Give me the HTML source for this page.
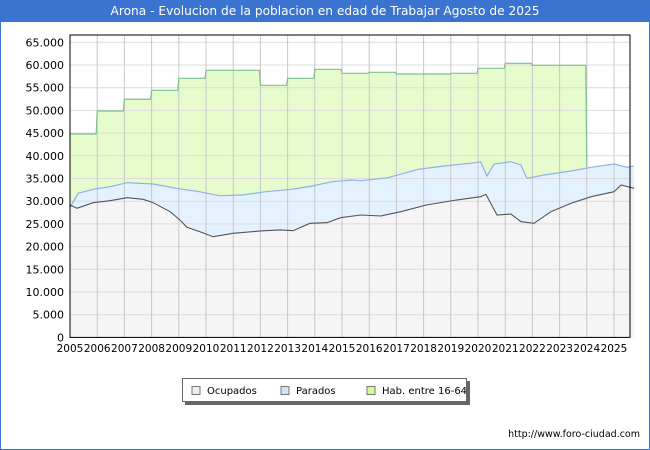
<!DOCTYPE html>
<html><head><meta charset="utf-8"><style>
body{margin:0;width:650px;height:450px;overflow:hidden;background:#fff;font-family:"DejaVu Sans","Liberation Sans",sans-serif}
#frame{position:absolute;left:0;top:0;width:648px;height:448px;border:1px solid #3a74d0}
#title{position:absolute;left:0;top:0;width:650px;height:22px;background:#3a74d0;color:#fff;font-size:12.2px;line-height:22px;text-align:center}
svg{position:absolute;left:0;top:0}
</style></head><body>
<div id="frame"></div>
<div id="title">Arona - Evolucion de la poblacion en edad de Trabajar Agosto de 2025</div>
<svg id="chart" width="650" height="450"></svg>
<script>
const habYears=[2005,2006,2007,2008,2009,2010,2011,2012,2013,2014,2015,2016,2017,2018,2019,2020,2021,2022,2023];
const habValues=[44800,49870,52450,54420,57070,58830,58830,55530,57070,59050,58170,58390,58020,58020,58170,59270,60370,59930,59930];
const habEnd=2024.0;
const ocuDates=[2005,2005.26,2005.85,2006.47,2007.1,2007.69,2008.06,2008.68,2009.04,2009.3,2009.78,2010.26,2011.0,2012.0,2012.72,2013.2,2013.82,2014.45,2014.95,2015.69,2016.43,2017.16,2018.1,2019.21,2020.1,2020.29,2020.7,2021.21,2021.58,2022.06,2022.68,2023.42,2024.16,2025.0,2025.26,2025.74];
const ocuValues=[29160,28440,29670,30110,30770,30420,29670,27690,25860,24250,23280,22180,22930,23440,23660,23500,25130,25260,26370,26960,26740,27690,29160,30260,30990,31520,26960,27180,25480,25130,27690,29540,30990,32090,33570,32840];
const parDates=[2005,2005.3,2005.85,2006.47,2007.1,2008.06,2008.9,2009.75,2010.48,2011.32,2012.2,2013.16,2013.9,2014.63,2015.35,2015.69,2016.69,2017.8,2018.76,2019.9,2020.1,2020.33,2020.59,2021.21,2021.58,2021.8,2022.43,2023.42,2024.16,2025.0,2025.48,2025.74];
const parValues=[28600,31740,32620,33200,34080,33790,32840,32090,31210,31360,32090,32620,33350,34300,34670,34520,35180,37030,37760,38480,38700,35550,38190,38700,37980,35040,35770,36650,37470,38190,37470,37760];
const yTicks=[0,5000,10000,15000,20000,25000,30000,35000,40000,45000,50000,55000,60000,65000];
const xTicks=[2005,2006,2007,2008,2009,2010,2011,2012,2013,2014,2015,2016,2017,2018,2019,2020,2021,2022,2023,2024,2025];

const NS='http://www.w3.org/2000/svg';
const svg=document.getElementById('chart');
const L=70,R=630,T=35,B=337.4;
const x=t=>L+(t-2005)*27.2;
const y=v=>B-v/5000*22.7;
function mk(tag,attrs,parent){const e=document.createElementNS(NS,tag);for(const k in attrs)e.setAttribute(k,attrs[k]);(parent||svg).appendChild(e);return e;}
const fmt=v=>v.toLocaleString('de-DE');

mk('rect',{x:L,y:T,width:R-L,height:B-T,fill:'#fff'});
let hp=[];habYears.forEach((yr,i)=>{const x2=i+1<habYears.length?habYears[i+1]:habEnd;hp.push([x(yr),y(habValues[i])],[x(x2)-1,y(habValues[i])]);});
const hpts=hp.map(p=>p.join(',')).join(' ');
const habArea=mk('polygon',{points:`${x(2005)},${B} ${hpts} ${x(habEnd)},${B}`,fill:'#e6fccc'});


const ppts=parDates.map((d,i)=>`${x(d)},${y(parValues[i])}`).join(' ');
const parArea=mk('polygon',{points:`${x(parDates[0])},${B} ${ppts} ${x(parDates[parDates.length-1])},${B}`,fill:'#e4f1fe'});


const opts=ocuDates.map((d,i)=>`${x(d)},${y(ocuValues[i])}`).join(' ');
const ocuArea=mk('polygon',{points:`${x(ocuDates[0])},${B} ${opts} ${x(ocuDates[ocuDates.length-1])},${B}`,fill:'#f5f5f5'});


yTicks.forEach(v=>{mk('line',{x1:L,x2:R,y1:y(v),y2:y(v),stroke:'#dcdcdc','stroke-width':1});
const t=mk('text',{x:64,y:y(v)+4,'text-anchor':'end','font-size':11,fill:'#000'});t.textContent=fmt(v);

});
xTicks.forEach(v=>{mk('line',{x1:x(v),x2:x(v),y1:T,y2:B,stroke:'#c8c8c8','stroke-width':1});
const t=mk('text',{x:x(v),y:352,'text-anchor':'middle','font-size':10.5,fill:'#000'});t.textContent=v;

});
const hl=mk('polyline',{points:`${x(2005)},${y(habValues[0])} ${hpts} ${x(habEnd)},${y(parValues[28])}`,fill:'none',stroke:'#7cc090','stroke-width':1.2});


const pl=mk('polyline',{points:ppts,fill:'none',stroke:'#8fb0ea','stroke-width':1.2});


const ol=mk('polyline',{points:opts,fill:'none',stroke:'#555','stroke-width':1.1});


mk('rect',{x:L,y:T,width:R-L,height:B-T,fill:'none',stroke:'#000','stroke-width':1});
const lg=mk('g',{});


mk('rect',{x:185,y:381,width:285,height:24,fill:'#666'},lg);
mk('rect',{x:182.5,y:378.5,width:284,height:23,fill:'#fff',stroke:'#666'},lg);
[['Ocupados','#eeeeee',192],['Parados','#cce6ff',281],['Hab. entre 16-64','#ccff99',367]].forEach(([n,c,lx])=>{
const g=mk('g',{},lg);


mk('rect',{x:lx,y:386.5,width:8,height:8,fill:c,stroke:'#777'},g);
const t=mk('text',{x:lx+15,y:394,'font-size':10,fill:'#000'},g);t.textContent=n;});
const u=mk('text',{x:640,y:437,'text-anchor':'end','font-size':9.5,fill:'#000'});u.textContent='http://www.foro-ciudad.com';


</script>
</body></html>
